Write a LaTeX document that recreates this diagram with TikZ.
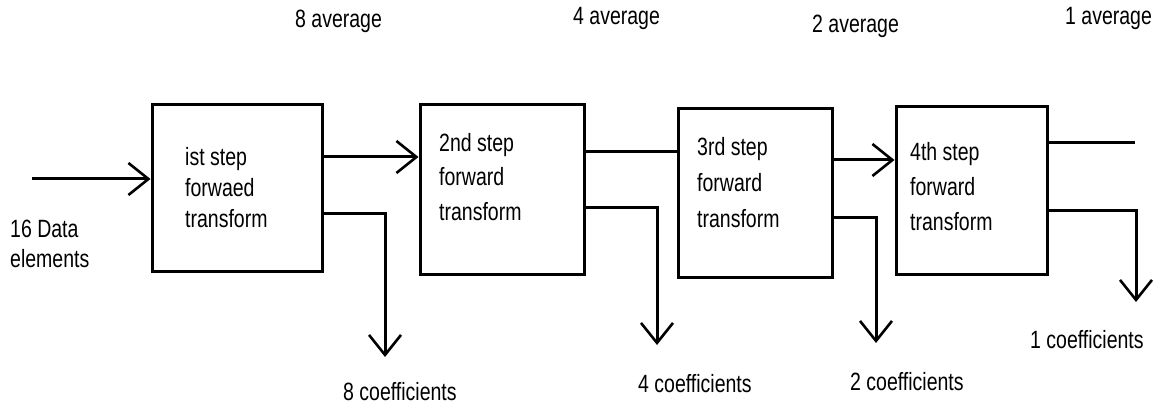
\documentclass[tikz,border=0pt]{standalone}
\usepackage{fontspec}
\setmainfont{Liberation Sans}[FakeStretch=0.78]
\usetikzlibrary{arrows.meta}

\tikzset{
  wire/.style={line width=3pt},
  arr/.style={wire, -{Straight Barb[length=20pt,width=32pt,line width=2.6pt]}},
  stepbox/.style={draw, line width=3pt, inner sep=0pt},
  lbl/.style={inner sep=0pt, anchor=base west, font=\fontsize{25}{30}\selectfont},
  % multi-line text: the base anchor sits on the last line
  steptext/.style={inner sep=0pt, anchor=base west, align=left,
    font=\fontsize{25}{#1}\selectfont},
}

\begin{document}
\begin{tikzpicture}[x=1pt, y=-1pt]
\useasboundingbox (0,0) rectangle (1161,406);

% the four forward-transform stages
\node[stepbox, minimum width=170pt, minimum height=166pt] (b1) at (237,188) {};
\node[stepbox, minimum width=164pt, minimum height=169pt] (b2) at (502,189.5) {};
\node[stepbox, minimum width=154pt, minimum height=168pt] (b3) at (755,193) {};
\node[stepbox, minimum width=151pt, minimum height=167pt] (b4) at (971.5,190.5) {};

\node[steptext=31] (t1) at (185,227) {ist step\\forwaed\\transform};
\node[steptext=34.5] (t2) at (439,220) {2nd step\\forward\\transform};
\node[steptext=36] (t3) at (697,227) {3rd step\\forward\\transform};
\node[steptext=35] (t4) at (910,230) {4th step\\forward\\transform};

% input and free ends of the outputs
\coordinate (in) at (32,179);
\coordinate (c1) at (385,357);
\coordinate (c2) at (657,345);
\coordinate (c3) at (876,343);
\coordinate (c4) at (1136,302);
\coordinate (a4) at (1135,143);

% connectors
\draw[arr] (in) -- (in -| b1.west);
\draw[arr] (b1.east |- 0,157) -- (b2.west |- 0,157);
\draw[arr] (b1.east |- 0,213) -| (c1);
\draw[wire] (b2.east |- 0,152) -- (b3.west |- 0,152);
\draw[arr] (b2.east |- 0,207) -| (c2);
\draw[arr] (b3.east |- 0,160) -- (b4.west |- 0,160);
\draw[arr] (b3.east |- 0,217) -| (c3);
\draw[wire] (b4.east |- a4) -- (a4);
\draw[arr] (b4.east |- 0,210) -| (c4);

% labels
\node[lbl, align=left] (data) at (10,267) {16 Data\\elements};
\node[lbl] (av8) at (295,28) {8 average};
\node[lbl] (av4) at (573,25) {4 average};
\node[lbl] (av2) at (812,33) {2 average};
\node[lbl] (av1) at (1065,25) {1 average};
\node[lbl] (co8) at (343,400) {8 coefficients};
\node[lbl] (co4) at (638,392) {4 coefficients};
\node[lbl] (co2) at (850,390) {2 coefficients};
\node[lbl] (co1) at (1030,348) {1 coefficients};
\end{tikzpicture}
\end{document}
